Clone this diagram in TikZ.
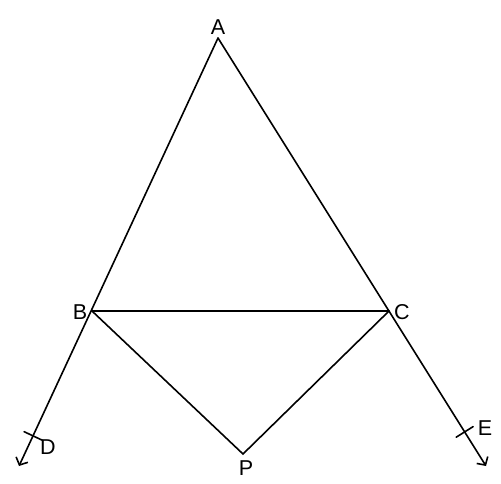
\documentclass[tikz,border=0pt]{standalone}
\usepackage{fontspec}
\setmainfont{Liberation Sans}
\usetikzlibrary{arrows.meta,calc}
\begin{document}
\begin{tikzpicture}[x=1pt,y=-1pt,
  seg/.style={line width=1.6pt,line cap=round},
  ray/.style={seg,-{Straight Barb[length=6pt,width=13pt,line width=1.6pt]}},
  lbl/.style={font=\fontsize{21.5}{21.5}\selectfont,inner sep=0pt}]
\useasboundingbox (0,0) rectangle (501,483);
\coordinate (A) at (218,38);
\coordinate (B) at (92,311);
\coordinate (C) at (389,311);
\coordinate (P) at (243,454);
\coordinate (D) at (19,466);
\coordinate (E) at (486,466);
\draw[ray] (A) -- (D);
\draw[ray] (A) -- (E);
\draw[seg] (B) -- (C);
\draw[seg] (B) -- (P) -- (C);
\coordinate (tD) at ($(B)!0.806!(D)$);
\coordinate (tE) at ($(C)!0.78!(E)$);
\draw[seg] ($(tD)!10pt!90:(D)$) -- ($(tD)!10pt!-90:(D)$);
\draw[seg] ($(tE)!10pt!90:(E)$) -- ($(tE)!10pt!-90:(E)$);
\node[lbl] (lA) at (218,27) {A};
\node[lbl] (lB) at (80,312) {B};
\node[lbl] (lC) at (402,312) {C};
\node[lbl] (lP) at (246,468) {P};
\node[lbl] (lD) at (48,447) {D};
\node[lbl] (lE) at (485,428) {E};
\end{tikzpicture}
\end{document}
